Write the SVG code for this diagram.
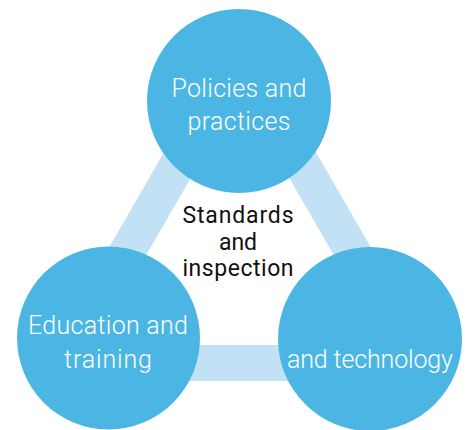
<svg xmlns="http://www.w3.org/2000/svg" width="468" height="430" viewBox="0 0 468 430">
<style>
.band{fill:none;stroke:#c3e1f5;stroke-width:36;stroke-linejoin:miter}
.node{fill:#4bb6e3}
.wt{fill:#ffffff;font-family:Roboto,"Liberation Sans",sans-serif;font-weight:300;font-size:25px;text-anchor:middle}
.bt{fill:#111111;font-family:Roboto,"Liberation Sans",sans-serif;font-weight:400;font-size:23px;text-anchor:middle}
</style>
<rect width="468" height="430" fill="#ffffff"/>
<g id="connectors">
<polygon class="band" points="240,57 63,363 417,363"/>
</g>
<g id="center-label">
<text class="bt" x="238" y="223" textLength="111" lengthAdjust="spacing">Standards</text>
<text class="bt" x="238" y="250">and</text>
<text class="bt" x="238" y="276" textLength="111" lengthAdjust="spacing">inspection</text>
</g>
<g id="node-policies">
<circle class="node" cx="239" cy="101" r="92"/>
<text class="wt" x="239" y="97" textLength="135" lengthAdjust="spacing">Policies and</text>
<text class="wt" x="239" y="130" textLength="103" lengthAdjust="spacing">practices</text>
</g>
<g id="node-education">
<circle class="node" cx="108.5" cy="338" r="91.5"/>
<text class="wt" x="108" y="334" textLength="160" lengthAdjust="spacing">Education and</text>
<text class="wt" x="108" y="368" textLength="88" lengthAdjust="spacing">training</text>
</g>
<g id="node-technology">
<circle class="node" cx="370" cy="339" r="92"/>
<text class="wt" x="370" y="368" textLength="166" lengthAdjust="spacing">and technology</text>
</g>
</svg>
